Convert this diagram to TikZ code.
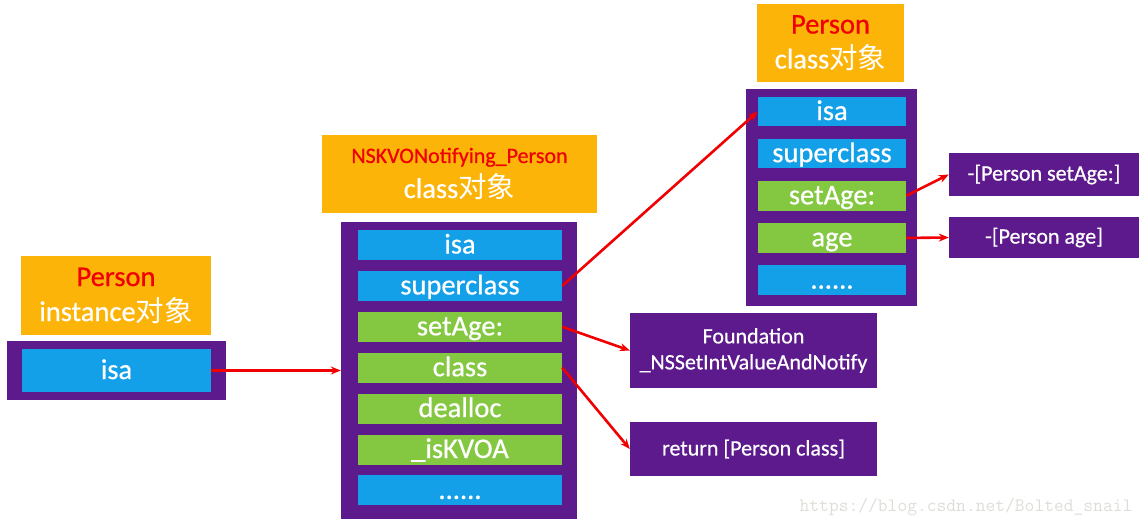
\documentclass[tikz,border=0pt]{standalone}
\usepackage{fontspec}
\setmainfont{Carlito}[FakeBold=0.6]
\newfontfamily\cjk{Noto Sans CJK SC}
\usepackage{xcolor}
\definecolor{KvoOrange}{RGB}{252, 180, 8}
\definecolor{KvoPurple}{RGB}{92, 26, 140}
\definecolor{KvoBlue}{RGB}{20, 160, 232}
\definecolor{KvoGreen}{RGB}{132, 200, 66}
\definecolor{KvoRed}{RGB}{240, 0, 0}
\definecolor{MarkGray}{RGB}{222, 222, 216}
\usetikzlibrary{arrows.meta, positioning}

\begin{document}
\begin{tikzpicture}[
        x=1pt, y=-1pt,
        node distance=10.5pt,
        title/.style={rectangle, fill=KvoOrange, text=white, align=center, inner sep=0pt, font=\fontsize{28.5}{35}\selectfont},
        holder/.style={rectangle, fill=KvoPurple, inner sep=0pt},
        slot/.style={rectangle, text=white, inner sep=0pt, minimum width=204pt, minimum height=30pt, text height=21pt, text depth=4pt, font=\fontsize{28.5}{30}\selectfont},
        ivar/.style={slot, fill=KvoBlue},
        meth/.style={slot, fill=KvoGreen},
        impl/.style={rectangle, fill=KvoPurple, text=white, align=center, inner sep=0pt, font=\fontsize{22}{26}\selectfont},
        ptr/.style={draw=KvoRed, line width=2.6pt, -{Stealth[length=10pt, width=8pt]}}
    ]
        \useasboundingbox (0,0) rectangle (1147,527);

        % instance
        \node[title, minimum width=190pt, minimum height=79pt] (instTitle) at (116,295.5) {\textcolor{KvoRed}{Person}\\instance{\cjk 对象}};
        \node[holder, minimum width=219pt, minimum height=59pt] (instBox) at (116.5,370.5) {};
        \node[ivar, minimum width=189pt, minimum height=43pt] (instIsa) at (116.5,370.5) {isa};

        % NSKVONotifying_Person class
        \node[title, minimum width=275pt, minimum height=78pt] (kvoTitle) at (459.5,174) {{\fontsize{22}{24}\selectfont\textcolor{KvoRed}{NSKVONotifying\_Person}}\\class{\cjk 对象}};
        \node[holder, minimum width=236pt, minimum height=297pt] (kvoBox) at (459,370.5) {};
        \node[ivar] (kvoIsa) at (460,245) {isa};
        \node[ivar, below=of kvoIsa] (kvoSuper) {superclass};
        \node[meth, below=of kvoSuper] (kvoSet) {setAge:};
        \node[meth, below=of kvoSet] (kvoClass) {class};
        \node[meth, below=of kvoClass] (kvoDealloc) {dealloc};
        \node[meth, below=of kvoDealloc] (kvoFlag) {\_isKVOA};
        \node[ivar, below=of kvoFlag] (kvoMore) {......};

        % Person class
        \node[title, minimum width=147pt, minimum height=78pt] (clsTitle) at (830.5,43) {\textcolor{KvoRed}{Person}\\class{\cjk 对象}};
        \node[holder, minimum width=171pt, minimum height=217pt] (clsBox) at (831.5,197.5) {};
        \begin{scope}[node distance=12.25pt, slot/.append style={minimum width=148pt, minimum height=29.5pt}]
            \node[ivar] (clsIsa) at (832,111.5) {isa};
            \node[ivar, below=of clsIsa] (clsSuper) {superclass};
            \node[meth, below=of clsSuper] (clsSet) {setAge:};
            \node[meth, below=of clsSet] (clsAge) {age};
            \node[ivar, below=of clsAge] (clsMore) {......};
        \end{scope}

        % implementations
        \node[impl, minimum width=190pt, minimum height=43pt] (implSet) at (1044,174.5) {-[Person setAge:]};
        \node[impl, minimum width=190pt, minimum height=41pt] (implAge) at (1044,237.5) {-[Person age]};
        \node[impl, minimum width=247pt, minimum height=75pt] (implNotify) at (753.5,350.5) {Foundation\\\_NSSetIntValueAndNotify};
        \node[impl, minimum width=247pt, minimum height=54pt] (implClass) at (753.5,449) {return [Person class]};

        % pointers
        \draw[ptr] (instIsa.east) -- (kvoBox.west);
        \draw[ptr] (kvoSuper.east) -- (clsIsa.west);
        \draw[ptr] (kvoSet.east) -- (implNotify.west);
        \draw[ptr] (kvoClass.east) -- (implClass.west);
        \draw[ptr] (clsSet.east) -- (implSet.west);
        \draw[ptr] (clsAge.east) -- (implAge.west);

        \node[text=MarkGray, font=\ttfamily\fontsize{19}{19}\selectfont, inner sep=0pt] (mark) at (966,507) {https://blog.csdn.net/Bolted\_snail};
    \end{tikzpicture}
\end{document}
